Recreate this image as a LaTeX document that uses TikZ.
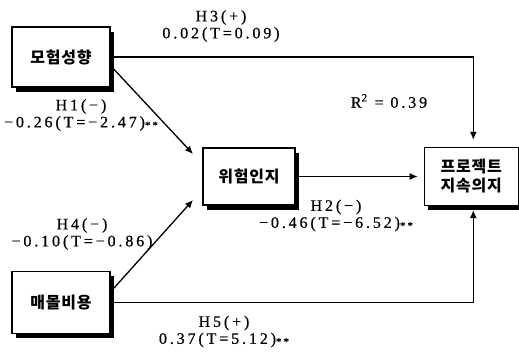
\documentclass[tikz,border=0pt]{standalone}
\usepackage{fontspec}
\usepackage{tikz}
\usetikzlibrary{arrows.meta,positioning,shadows}

\newfontfamily\labfont[LetterSpace=18,FakeBold=0.6]{Liberation Serif}
\newfontfamily\kofont[LetterSpace=5]{Noto Sans CJK KR}
\newcommand{\sig}{{\fontsize{11}{11}\selectfont\raisebox{-1.5pt}{**}}}

\begin{document}
\begin{tikzpicture}[
  x=1pt, y=-1pt,
  var/.style={rectangle, draw=black, line width=1.3pt, fill=white,
              minimum width=96pt, minimum height=59pt, inner sep=2pt,
              align=center, font=\kofont\bfseries\fontsize{16}{19}\selectfont,
              drop shadow={shadow xshift=4pt, shadow yshift=-4.5pt,
                           fill=black, opacity=1}},
  arr/.style={-{Latex[length=8pt,width=7pt]}, line width=1.3pt},
  lab/.style={align=center, inner sep=0pt,
              font=\labfont\fontsize{16}{17}\selectfont},
]
\useasboundingbox (0,0) rectangle (519,354);

% variables
\node[var, minimum width=98pt, minimum height=60pt] (risk) at (61,57) {모험성향};
\node[var, minimum width=98pt, minimum height=62pt, below=183pt of risk] (sunk) {매몰비용};
\node[var, minimum width=92pt, minimum height=57pt] (percv) at (249,176.5) {위험인지};
\node[var, minimum width=94pt, minimum height=58pt, right=128pt of percv] (cont) {프로젝트\\지속의지};

% free ends of the two slanted paths
\coordinate (h1tip) at (193,154);
\coordinate (h4tip) at (193,200);

% paths
\draw[arr] (risk.-10) -- (h1tip);
\draw[arr] (sunk.12) -- (h4tip);
\draw[arr, shorten >=7pt] (risk.east) -| ([xshift=2pt]cont.north);
\draw[arr, shorten >=6pt] (percv.east) -- (cont.west);
\draw[arr, shorten >=4pt] (sunk.east) -| ([xshift=2pt]cont.south);

% coefficients
\node[lab] (h3lab) at (221,26) {H3(+)\\0.02(T=0.09)};
\node[lab] (h1lab) at (81,115) {H1(−)\\−0.26(T=−2.47)\sig};
\node[lab] (h4lab) at (82,234) {H4(−)\\−0.10(T=−0.86)};
\node[lab] (h2lab) at (336,215.5) {H2(−)\\−0.46(T=−6.52)\sig};
\node[lab] (h5lab) at (224,331.5) {H5(+)\\0.37(T=5.12)\sig};
\node[lab] (rsq) at (389,101) {R\textsuperscript{2} = 0.39};
\end{tikzpicture}
\end{document}
